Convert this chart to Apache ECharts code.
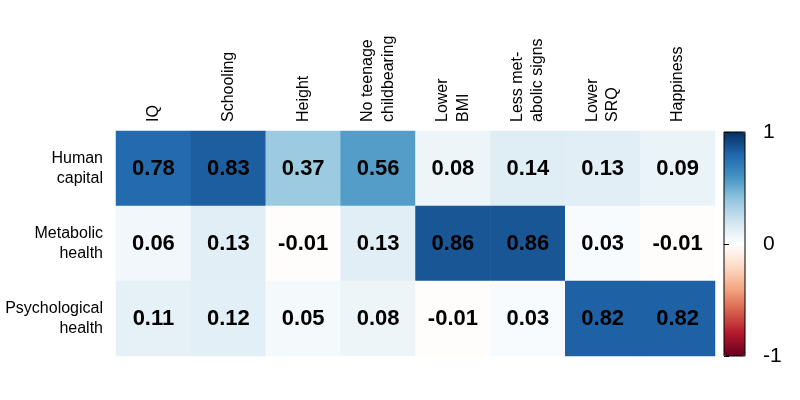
<!DOCTYPE html>
<html>
<head>
<meta charset="utf-8">
<script src="https://cdn.jsdelivr.net/npm/echarts@6/dist/echarts.min.js"></script>
<style>
html,body{margin:0;padding:0;background:#fff;}
#c{width:800px;height:400px;}
</style>
</head>
<body>
<div id="c"></div>
<script>
const columns = ['IQ', 'Schooling', 'Height', 'No teenage\nchildbearing', 'Lower\nBMI', 'Less met-\nabolic signs', 'Lower\nSRQ', 'Happiness'];
const rows = ['Human\ncapital', 'Metabolic\nhealth', 'Psychological\nhealth'];
const humanCapital = [0.78, 0.83, 0.37, 0.56, 0.08, 0.14, 0.13, 0.09];
const metabolicHealth = [0.06, 0.13, -0.01, 0.13, 0.86, 0.86, 0.03, -0.01];
const psychologicalHealth = [0.11, 0.12, 0.05, 0.08, -0.01, 0.03, 0.82, 0.82];
const colorbarTicks = [-1, 0, 1];
const palette = ['#67001F', '#B2182B', '#D6604D', '#F4A582', '#FDDBC7', '#FFFFFF', '#D1E5F0', '#92C5DE', '#4393C3', '#2166AC', '#053061'];

const rowValues = [humanCapital, metabolicHealth, psychologicalHealth];
const data = [];
rowValues.forEach((vals, r) => {
  vals.forEach((v, c) => data.push([c, r, v]));
});

const chart = echarts.init(document.getElementById('c'), null, {renderer: 'canvas'});
chart.setOption({
  animation: false,
  backgroundColor: '#fff',
  textStyle: {fontFamily: 'Liberation Sans, Arial, sans-serif'},
  grid: [
    {left: 116, top: 131, width: 599, height: 225},
    {left: 724, top: 132, width: 21, height: 224, show: true, borderColor: '#000', borderWidth: 1, backgroundColor: 'transparent', z: 10}
  ],
  xAxis: [
    {
      type: 'category', data: columns, position: 'top', gridIndex: 0,
      axisLine: {show: false}, axisTick: {show: false}, splitLine: {show: false},
      axisLabel: {rotate: -90, margin: 9, fontSize: 16, color: '#000', lineHeight: 20.5, interval: 0}
    },
    {type: 'value', gridIndex: 1, show: false, min: 0, max: 1}
  ],
  yAxis: [
    {
      type: 'category', data: rows, inverse: true, gridIndex: 0,
      axisLine: {show: false}, axisTick: {show: false}, splitLine: {show: false},
      axisLabel: {margin: 13, fontSize: 16, color: '#000', lineHeight: 20, align: 'right'}
    },
    {
      type: 'value', gridIndex: 1, position: 'right', min: colorbarTicks[0], max: colorbarTicks[2], interval: 1, z: 10,
      axisLine: {show: false}, splitLine: {show: false},
      axisTick: {show: true, inside: false, length: 5, lineStyle: {color: '#000', width: 1}},
      axisLabel: {margin: 18, fontSize: 21, color: '#000'}
    }
  ],
  visualMap: {
    type: 'continuous', min: -1, max: 1, calculable: false, orient: 'vertical',
    left: 724, top: 132, itemWidth: 21, itemHeight: 224, padding: 0,
    showLabel: false, text: null, seriesIndex: 0,
    inRange: {color: palette}
  },
  series: [{
    type: 'heatmap', xAxisIndex: 0, yAxisIndex: 0, data: data,
    label: {
      show: true, fontSize: 22, fontWeight: 'bold', color: '#000',
      formatter: p => p.value[2].toFixed(2)
    },
    itemStyle: {borderWidth: 0},
    emphasis: {disabled: true}
  }]
});
</script>
</body>
</html>
